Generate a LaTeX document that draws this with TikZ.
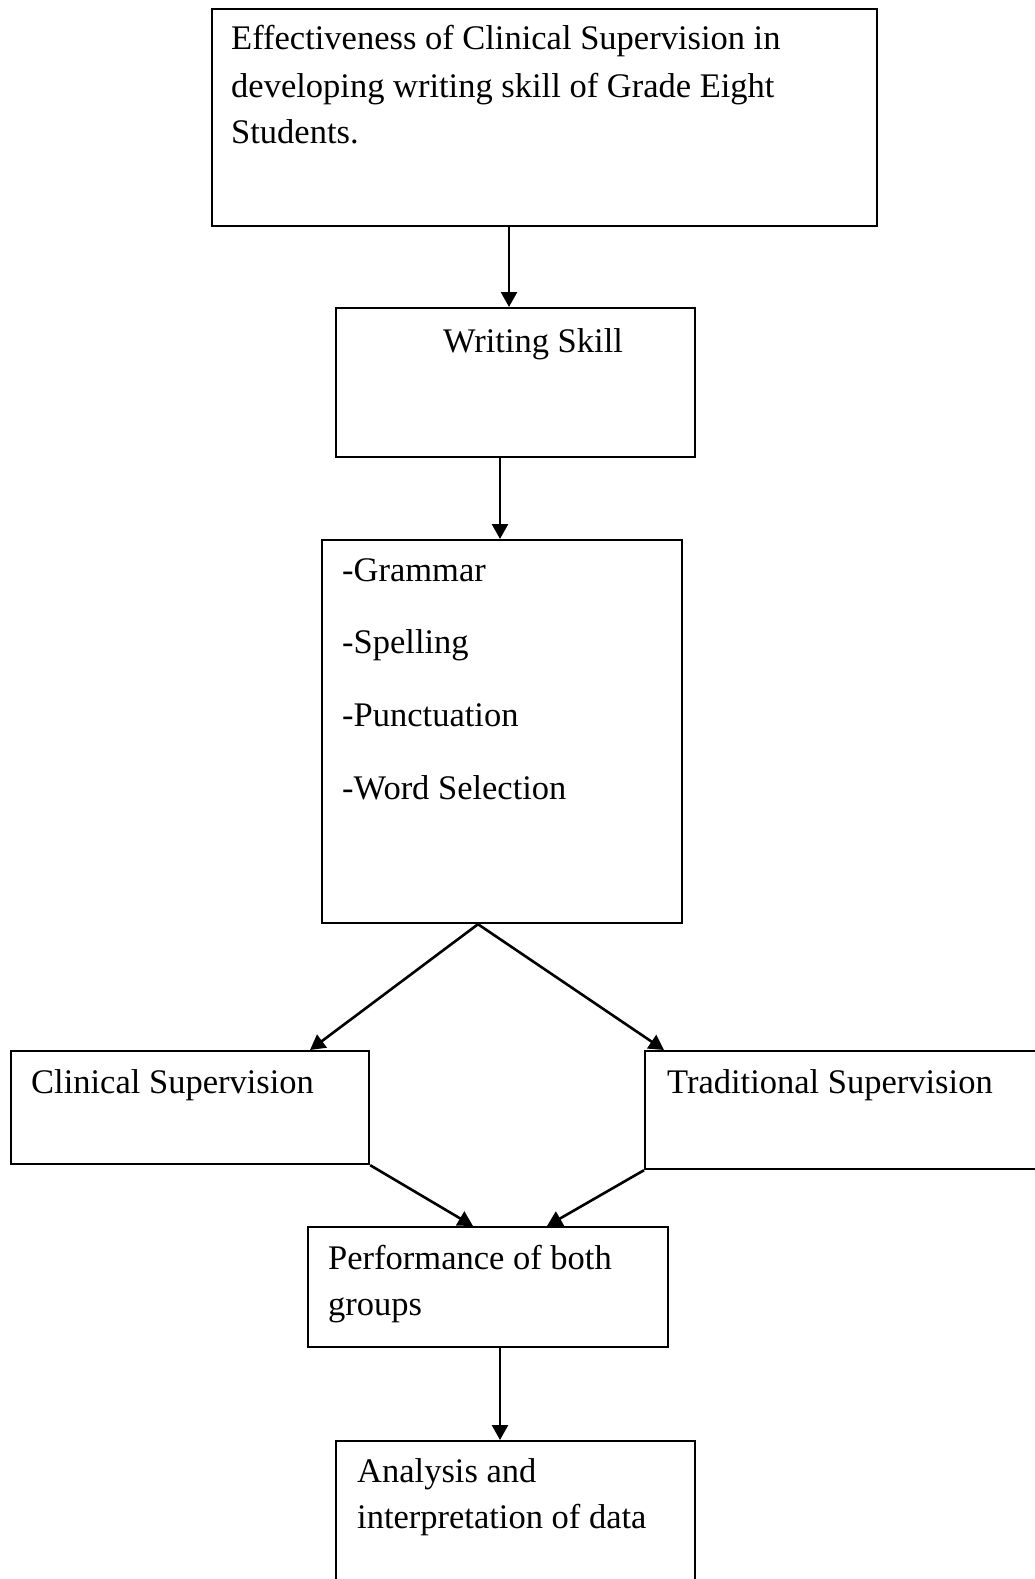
\documentclass[tikz,border=0pt]{standalone}
\usepackage{fontspec}
\setmainfont{Liberation Serif}
\usetikzlibrary{arrows.meta}
\begin{document}
\begin{tikzpicture}[x=1pt,y=-1pt,
  boxnode/.style={draw=black, line width=2.2pt, rectangle, inner sep=0pt, anchor=north west},
  txt/.style={anchor=base west, inner sep=0pt, font=\fontsize{34.5}{46}\selectfont},
  arr/.style={line width=2.6pt, -{Triangle[length=15pt,width=16pt]}}]
\useasboundingbox (0,0) rectangle (1035,1579);
\clip (0,0) rectangle (1035,1579);
\fill[white] (0,0) rectangle (1035,1579);
% boxes
\node[boxnode, minimum width=665pt, minimum height=217pt] (b1) at (211,8) {};
\node[boxnode, minimum width=359pt, minimum height=149pt] (b2) at (335,307) {};
\node[boxnode, minimum width=360pt, minimum height=383pt] (b3) at (321,539) {};
\node[boxnode, minimum width=358pt, minimum height=113pt] (b4) at (10,1050) {};
\node[boxnode, minimum width=420pt, minimum height=118pt] (b5) at (644,1050) {};
\node[boxnode, minimum width=360pt, minimum height=120pt] (b6) at (307,1226) {};
\node[boxnode, minimum width=359pt, minimum height=180pt] (b7) at (335,1440) {};
% texts
\node[txt] (t1a) at (231,50) {Effectiveness of Clinical Supervision in};
\node[txt] (t1b) at (231,97) {developing writing skill of Grade Eight};
\node[txt] (t1c) at (231,143) {Students.};
\node[txt] (t2) at (443,352) {Writing Skill};
\node[txt] (t3a) at (342,581) {-Grammar};
\node[txt] (t3b) at (342,653) {-Spelling};
\node[txt] (t3c) at (342,726) {-Punctuation};
\node[txt] (t3d) at (342,799) {-Word Selection};
\node[txt] (t4) at (31,1093) {Clinical Supervision};
\node[txt] (t5) at (667,1093) {Traditional Supervision};
\node[txt] (t6a) at (328,1269) {Performance of both};
\node[txt] (t6b) at (328,1315) {groups};
\node[txt] (t7a) at (357,1482) {Analysis and};
\node[txt] (t7b) at (357,1528) {interpretation of data};
% connectors
\draw[arr] ([xshift=298pt]b1.south west) -- ([xshift=174pt]b2.north west);
\draw[arr] ([xshift=165pt]b2.south west) -- ([xshift=179pt]b3.north west);
\draw[arr] ([xshift=157pt]b3.south west) -- ([xshift=300pt]b4.north west);
\draw[arr] ([xshift=157pt]b3.south west) -- ([xshift=20pt]b5.north west);
\draw[arr] (b4.south east) -- ([xshift=166pt]b6.north west);
\draw[arr] (b5.south west) -- ([xshift=240pt]b6.north west);
\draw[arr] ([xshift=193pt]b6.south west) -- ([xshift=165pt]b7.north west);
\end{tikzpicture}
\end{document}
